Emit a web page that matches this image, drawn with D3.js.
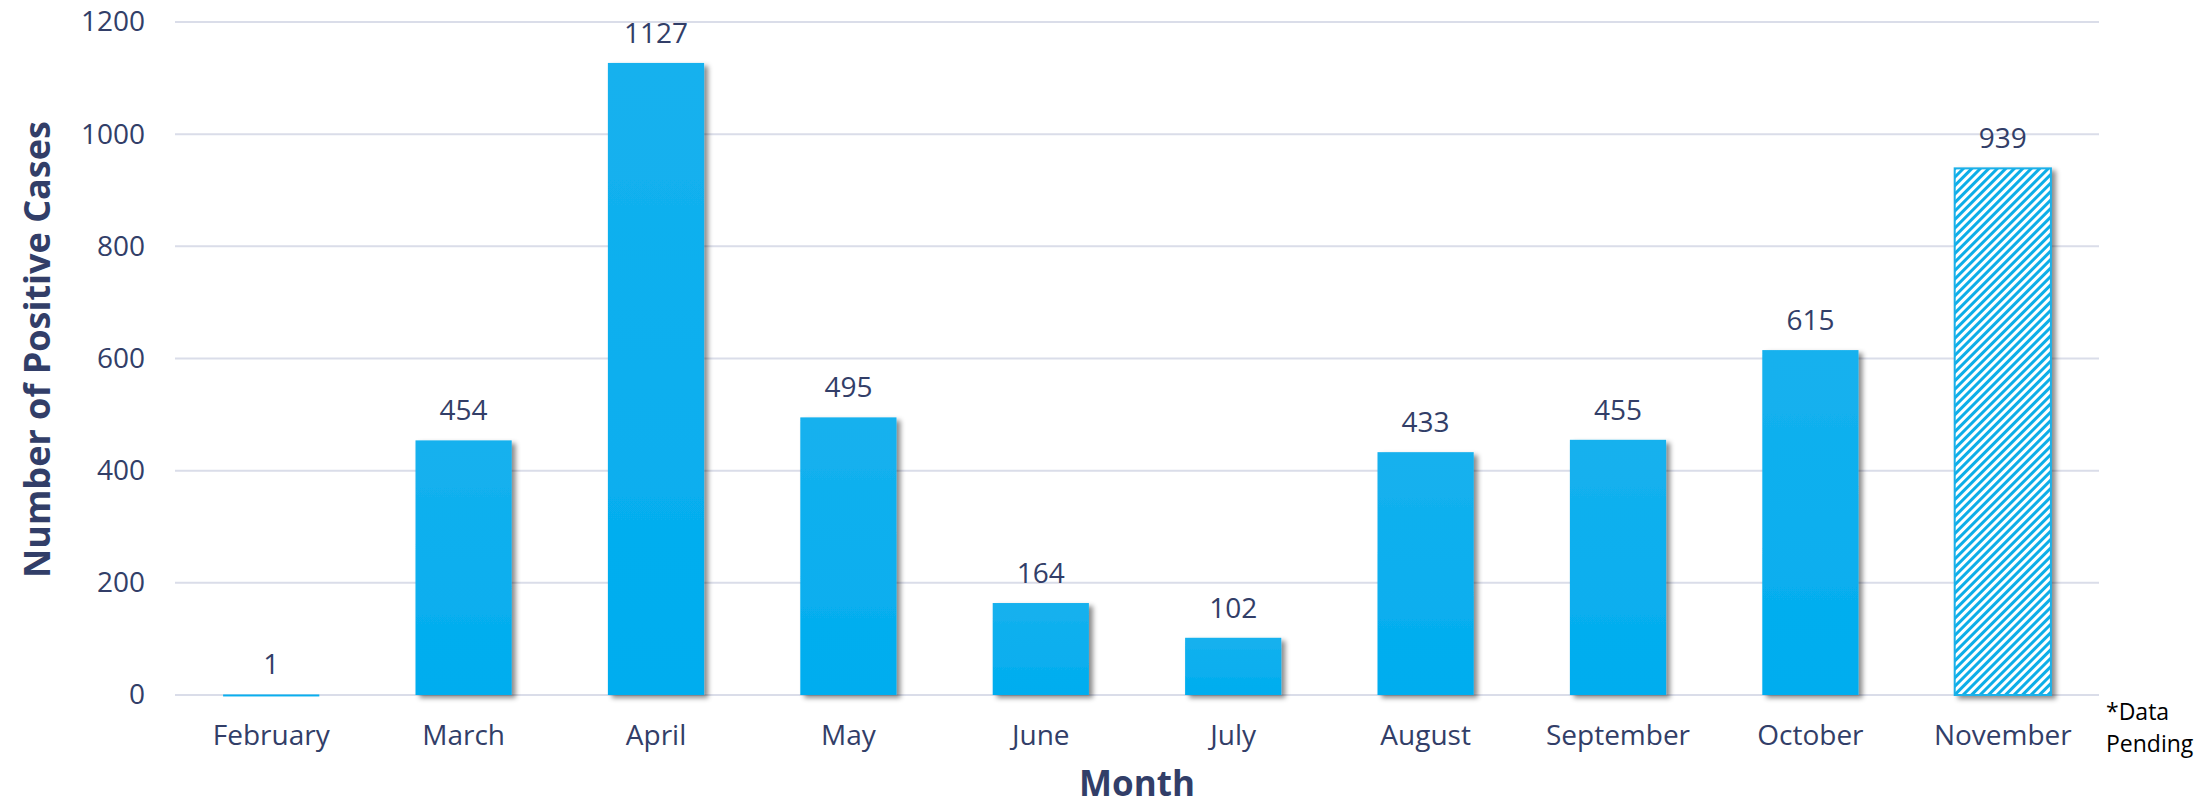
<!DOCTYPE html>
<html><head><meta charset="utf-8">
<script src="https://cdn.jsdelivr.net/npm/d3@7"></script>
<style>body{margin:0;background:#fff}svg{display:block}text{font-family:"Open Sans",sans-serif}</style>
</head><body>
<svg id="c" width="2202" height="808"></svg>
<script>
const months = ["February","March","April","May","June","July","August","September","October","November"];
const cases = [1,454,1127,495,164,102,433,455,615,939];
const pending = ["November"];
const yTicks = [0,200,400,600,800,1000,1200];

const W=2202,H=808, m={l:175,r:103,t:22,b:113};
const svg=d3.select("#c");
const defs=svg.append("defs");
const g1=defs.append("linearGradient").attr("id","bg").attr("x1",0).attr("y1",0).attr("x2",0).attr("y2",1);
g1.append("stop").attr("offset",0).attr("stop-color","#16b1ee");
g1.append("stop").attr("offset",1).attr("stop-color","#00adef");
const pat=defs.append("pattern").attr("id","hatch").attr("patternUnits","userSpaceOnUse")
  .attr("width",6).attr("height",6).attr("patternTransform","rotate(45)");
pat.append("rect").attr("width",6).attr("height",6).attr("fill","#fff");
pat.append("rect").attr("width",3).attr("height",6).attr("fill","#0caee8");
const f=defs.append("filter").attr("id","sh").attr("x","-10%").attr("y","-10%").attr("width","130%").attr("height","130%");
f.append("feDropShadow").attr("dx",4).attr("dy",3).attr("stdDeviation",2.5).attr("flood-color","#000").attr("flood-opacity",0.45);

const x=d3.scaleBand().domain(months).range([m.l,W-m.r]).paddingInner(0.5).paddingOuter(0.25);
const y=d3.scaleLinear().domain([0,1200]).range([695,22]);

const grid=svg.append("g");
grid.selectAll("line").data(yTicks).join("line")
  .attr("x1",m.l).attr("x2",W-m.r).attr("y1",d=>y(d)).attr("y2",d=>y(d))
  .attr("stroke","#dadde9").attr("stroke-width",2);

const yAxis=d3.axisLeft(y).tickValues(yTicks).tickFormat(d3.format("d")).tickSize(0).tickPadding(0);
const ya=svg.append("g").attr("transform","translate(145,0)").call(yAxis);
ya.select(".domain").remove();
ya.selectAll("text").attr("font-size",28).attr("fill","#323e68").attr("font-family","Open Sans");

const xAxis=d3.axisBottom(x).tickSize(0).tickPadding(0);
const xa=svg.append("g").attr("transform","translate(0,725)").call(xAxis);
xa.select(".domain").remove();
xa.selectAll("text").attr("font-size",28).attr("fill","#323e68").attr("font-family","Open Sans").attr("dy","0.71em");

svg.append("g").selectAll("rect").data(months).join("rect")
  .attr("x",d=>x(d)).attr("width",x.bandwidth())
  .attr("y",(d,i)=>y(cases[i])).attr("height",(d,i)=>Math.max(y(0)-y(cases[i]),2))
  .attr("fill",d=>pending.includes(d)?"url(#hatch)":"url(#bg)")
  .attr("stroke",d=>pending.includes(d)?"#1ab0e8":"none").attr("stroke-width",2)
  .attr("filter",(d,i)=>cases[i]>5?"url(#sh)":null);

svg.append("g").selectAll("text").data(months).join("text")
  .attr("x",d=>x(d)+x.bandwidth()/2).attr("y",(d,i)=>y(cases[i])-20)
  .attr("text-anchor","middle").attr("font-size",28).attr("fill","#323e68")
  .text((d,i)=>cases[i]);

svg.append("text").attr("transform",`translate(50,${(22+695)/2-9}) rotate(-90)`)
  .attr("text-anchor","middle").attr("font-size",36).attr("font-weight","bold").attr("fill","#323e68")
  .text("Number of Positive Cases");
svg.append("text").attr("x",(m.l+W-m.r)/2).attr("y",796).attr("text-anchor","middle")
  .attr("font-size",35).attr("font-weight","bold").attr("fill","#323e68").text("Month");
const note=svg.append("text").attr("x",2106).attr("font-size",23).attr("fill","#000");
note.append("tspan").attr("x",2106).attr("y",720).text("*Data");
note.append("tspan").attr("x",2106).attr("y",752).text("Pending");
</script></body></html>
